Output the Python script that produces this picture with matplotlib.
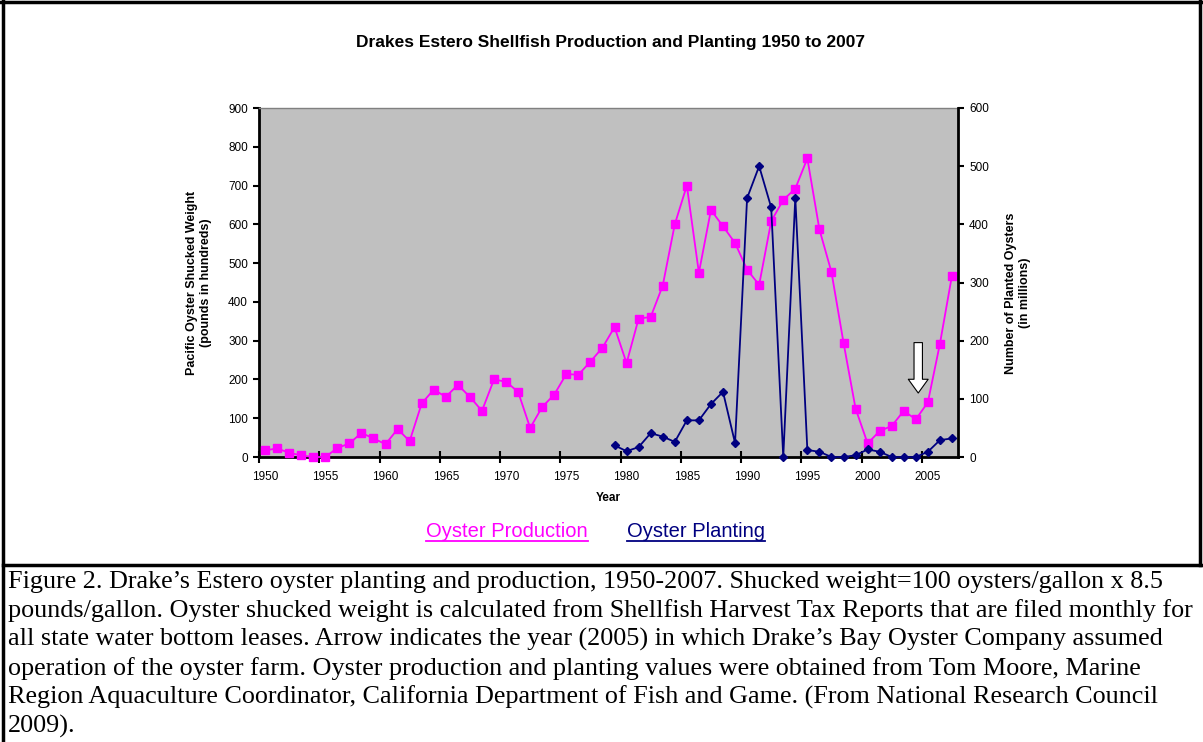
"""
Drakes Estero shellfish production and planting, 1950-2007.
Dual-axis line chart with a figure caption underneath.
"""
import matplotlib
matplotlib.use('Agg')
import matplotlib.pyplot as plt
from matplotlib.lines import Line2D
from matplotlib.ticker import FixedLocator, NullFormatter

# ============================================================
# Data
# ============================================================
years = list(range(1950, 2008))
production = [17, 22, 11, 4, 0, 0, 23, 35, 62, 48,
              33, 72, 41, 138, 174, 155, 186, 155, 119, 200,
              194, 168, 75, 129, 161, 214, 212, 246, 282, 335,
              242, 357, 361, 442, 600, 700, 475, 637, 595, 552,
              483, 444, 608, 663, 692, 770, 587, 477, 295, 125,
              35, 67, 80, 119, 97, 141, 292, 468]

planting_years = list(range(1979, 2008))
planting = [20, 10, 17, 41, 35, 26, 63, 63, 91, 112,
            24, 445, 500, 429, 0, 446, 12, 9, 0, 0,
            3, 13, 9, 0, 0, 0, 9, 29, 32]

year_labels = list(range(1950, 2006, 5))
left_ticks = list(range(0, 901, 100))
right_ticks = list(range(0, 601, 100))

caption_lines = [
    "Figure 2. Drake\u2019s Estero oyster planting and production, 1950-2007. Shucked weight=100 oysters/gallon x 8.5",
    "pounds/gallon. Oyster shucked weight is calculated from Shellfish Harvest Tax Reports that are filed monthly for",
    "all state water bottom leases. Arrow indicates the year (2005) in which Drake\u2019s Bay Oyster Company assumed",
    "operation of the oyster farm. Oyster production and planting values were obtained from Tom Moore, Marine",
    "Region Aquaculture Coordinator, California Department of Fish and Game. (From National Research Council",
    "2009).",
]

# ============================================================
# Style
# ============================================================
plt.rcParams.update({
    'font.family': ['Liberation Sans', 'DejaVu Sans'],
    'font.size': 8,
})

PINK = '#FF00FF'
NAVY = '#000080'
PLOT_BG = '#C0C0C0'

W, H = 1203, 742
fig = plt.figure(figsize=(W / 100, H / 100), dpi=100)
fig.patch.set_facecolor('white')

# plot area in pixel coordinates
left_px, right_px, top_px, bottom_px = 259, 958, 108, 457
ax = fig.add_axes([left_px / W, 1 - bottom_px / H,
                   (right_px - left_px) / W, (bottom_px - top_px) / H])
ax.set_facecolor(PLOT_BG)

# ============================================================
# Production (left axis)
# ============================================================
ax.plot(years, production, color=PINK, linewidth=1.3, marker='s',
        markersize=5.5, markerfacecolor=PINK, markeredgecolor=PINK,
        zorder=3, clip_on=False)
ax.set_xlim(1949.5, 2007.5)
ax.set_ylim(0, 900)
ax.set_yticks(left_ticks)

# year labels sit under the points, tick marks fall between categories
ax.set_xticks(year_labels)
ax.xaxis.set_minor_locator(FixedLocator([1949.5 + 5 * k for k in range(12)]))
ax.xaxis.set_minor_formatter(NullFormatter())
ax.tick_params(axis='x', which='major', length=0, pad=10, labelsize=8.5)
ax.tick_params(axis='x', which='minor', length=8, width=1.5, direction='inout')
ax.tick_params(axis='y', length=4, width=1.5, direction='out', pad=4, labelsize=8.5)

ax.set_xlabel('Year', fontweight='bold', fontsize=8.5, va='center')
ax.xaxis.set_label_coords(0.5, (bottom_px - 498) / (bottom_px - top_px))
ax.set_ylabel('Pacific Oyster Shucked Weight\n(pounds in hundreds)',
              fontweight='bold', fontsize=9, linespacing=1.25, va='center')
ax.yaxis.set_label_coords((199 - left_px) / (right_px - left_px), 0.5)

for side in ['left', 'bottom']:
    ax.spines[side].set_color('black')
    ax.spines[side].set_linewidth(2)
ax.spines['top'].set_color('#808080')
ax.spines['top'].set_linewidth(1)
ax.spines['right'].set_visible(False)

# ============================================================
# Planting (right axis)
# ============================================================
ax2 = ax.twinx()
ax2.plot(planting_years, planting, color=NAVY, linewidth=1.3, marker='D',
         markersize=4.5, markerfacecolor=NAVY, markeredgecolor=NAVY,
         zorder=3, clip_on=False)
ax2.set_ylim(0, 600)
ax2.set_yticks(right_ticks)
ax2.tick_params(axis='y', length=4, width=1.5, direction='out', pad=4, labelsize=8.5)
ax2.set_ylabel('Number of Planted Oysters\n(in millions)', fontweight='bold',
               fontsize=9, linespacing=1.25, va='center')
ax2.yaxis.set_label_coords((1018 - left_px) / (right_px - left_px), 0.47)
ax2.spines['right'].set_color('black')
ax2.spines['right'].set_linewidth(2)
for side in ['left', 'top', 'bottom']:
    ax2.spines[side].set_visible(False)

# arrow marking the change of operator
ax.annotate('', xy=(2004.2, 165), xytext=(2004.2, 295),
            arrowprops=dict(arrowstyle='simple,head_length=0.9,head_width=1.3,tail_width=0.55',
                            fc='white', ec='black', lw=0.8, mutation_scale=11,
                            shrinkA=0, shrinkB=0), zorder=5)

# ============================================================
# Title and legend
# ============================================================
fig.text(611 / W, 1 - 43 / H, 'Drakes Estero Shellfish Production and Planting 1950 to 2007',
         ha='center', va='center', fontsize=12.5, fontweight='bold')

leg_prod = fig.text(426 / W, 1 - 537 / H, 'Oyster Production', color=PINK,
                    ha='left', va='baseline', fontsize=14.5)
leg_plant = fig.text(627 / W, 1 - 537 / H, 'Oyster Planting', color=NAVY,
                     ha='left', va='baseline', fontsize=14.5)

renderer = fig.canvas.get_renderer()
for t, c in [(leg_prod, PINK), (leg_plant, NAVY)]:
    bb = t.get_window_extent(renderer)
    y_line = (H - 540.5) / H
    fig.add_artist(Line2D([bb.x0 / W, bb.x1 / W], [y_line, y_line],
                          color=c, linewidth=1.3, transform=fig.transFigure))

# ============================================================
# Caption
# ============================================================
cap_size = 15.5
cap_texts = []
for i, line in enumerate(caption_lines):
    y = 1 - (588 + i * 29) / H
    cap_texts.append(fig.text(8 / W, y, line, ha='left', va='baseline',
                              fontsize=cap_size, family=['Liberation Serif', 'DejaVu Serif']))

# scale caption so the widest line fills the box
widest = max(t.get_window_extent(renderer).width for t in cap_texts)
for t in cap_texts:
    t.set_fontsize(cap_size * 1184 / widest)

# ============================================================
# Frame lines
# ============================================================
frame = [
    ([0, 1], [1 - 1.5 / H, 1 - 1.5 / H]),
    ([3 / W, 3 / W], [0, 1]),
    ([1200 / W, 1200 / W], [1 - 565 / H, 1]),
    ([3 / W, 1], [1 - 565 / H, 1 - 565 / H]),
]
for xs, ys in frame:
    fig.add_artist(Line2D(xs, ys, color='black', linewidth=2.5,
                          transform=fig.transFigure))

plt.savefig('out.png', dpi=100)
plt.close()
